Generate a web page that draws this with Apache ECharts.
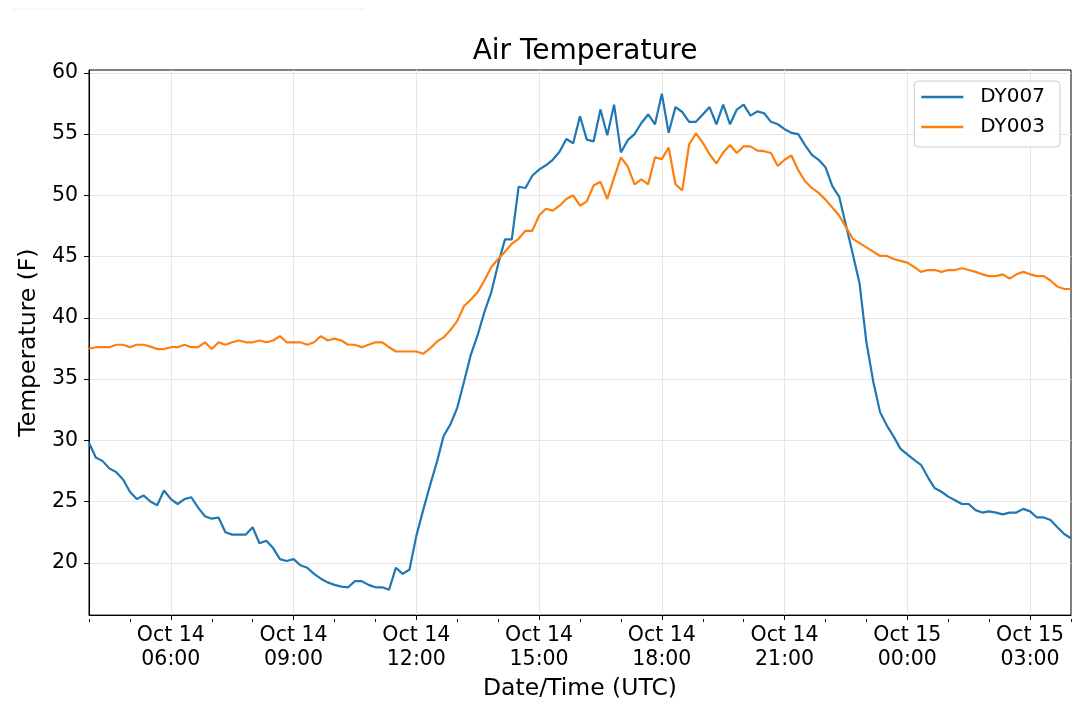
<!DOCTYPE html>
<html>
<head>
    <meta charset="utf-8">
    <title>Air Temperature</title>
    <script src="https://cdn.jsdelivr.net/npm/echarts@6/dist/echarts.min.js"></script>
    <style>
        html, body { margin: 0; padding: 0; background: #fff; }
        #chart1 { width: 1080px; height: 706px; }
    </style>
</head>
<body>
<div id="chart1"></div>
<script>
    // readings every 10 minutes, starting Oct 14 04:00 UTC
    // x is counted in hours after Oct 14 00:00 UTC
    var startHour = 4;
    var stepHours = 10 / 60;

    var dy007 = [
        29.8, 28.6, 28.3, 27.7, 27.4, 26.8, 25.8, 25.2, 25.5, 25.0,
        24.7, 25.9, 25.2, 24.8, 25.2, 25.35, 24.5, 23.8, 23.6, 23.7,
        22.5, 22.3, 22.3, 22.3, 22.9, 21.6, 21.8, 21.2, 20.3, 20.15,
        20.3, 19.8, 19.6, 19.1, 18.7, 18.4, 18.2, 18.05, 18.0, 18.5,
        18.5, 18.2, 18.0, 18.0, 17.8, 19.6, 19.1, 19.45, 22.2, 24.3,
        26.3, 28.2, 30.35, 31.3, 32.65, 34.8, 37.0, 38.6, 40.5, 42.1,
        44.4, 46.4, 46.4, 50.7, 50.6, 51.6, 52.1, 52.45, 52.9, 53.55,
        54.6, 54.25, 56.45, 54.55, 54.4, 57.0, 54.9, 57.4, 53.5, 54.5,
        55.0, 55.9, 56.6, 55.8, 58.3, 55.1, 57.2, 56.8, 56.0, 56.0,
        56.6, 57.2, 55.8, 57.4, 55.8, 57.0, 57.4, 56.5, 56.85, 56.7,
        56.0, 55.8, 55.4, 55.1, 55.0, 54.1, 53.3, 52.9, 52.3, 50.75,
        49.9, 47.55, 45.2, 42.8, 38.0, 34.8, 32.3, 31.2, 30.3, 29.3,
        28.85, 28.4, 28.0, 27.0, 26.1, 25.8, 25.4, 25.1, 24.8, 24.8,
        24.3, 24.1, 24.2, 24.1, 23.95, 24.1, 24.1, 24.4, 24.2, 23.7,
        23.7, 23.5, 22.9, 22.35, 22.0
    ];

    var dy003 = [
        37.47, 37.6, 37.6, 37.6, 37.8, 37.8, 37.6, 37.8, 37.8, 37.65,
        37.45, 37.45, 37.6, 37.6, 37.8, 37.6, 37.6, 38.0, 37.45, 38.0,
        37.8, 38.0, 38.15, 38.0, 38.0, 38.15, 38.0, 38.15, 38.5, 38.0,
        38.0, 38.0, 37.8, 38.0, 38.5, 38.15, 38.3, 38.15, 37.8, 37.8,
        37.6, 37.8, 38.0, 38.0, 37.6, 37.25, 37.25, 37.25, 37.25, 37.06,
        37.5, 38.05, 38.4, 39.0, 39.75, 40.96, 41.5, 42.1, 43.07, 44.15,
        44.8, 45.4, 46.05, 46.45, 47.1, 47.1, 48.35, 48.9, 48.75, 49.15,
        49.7, 50.0, 49.15, 49.5, 50.8, 51.1, 49.7, 51.45, 53.1, 52.35,
        50.9, 51.3, 50.9, 53.1, 52.95, 53.9, 50.9, 50.4, 54.15, 55.05,
        54.3, 53.35, 52.6, 53.5, 54.1, 53.45, 54.0, 54.0, 53.65, 53.6,
        53.45, 52.4, 52.9, 53.25, 52.05, 51.15, 50.6, 50.2, 49.65, 49.0,
        48.35, 47.4, 46.45, 46.1, 45.75, 45.4, 45.05, 45.05, 44.8, 44.65,
        44.5, 44.15, 43.75, 43.9, 43.9, 43.75, 43.9, 43.9, 44.05, 43.9,
        43.75, 43.55, 43.4, 43.4, 43.55, 43.2, 43.55, 43.75, 43.55, 43.4,
        43.4, 43.05, 42.55, 42.35, 42.35
    ];

    // tick positions (hours after Oct 14 00:00 UTC)
    var majorTickHours = [6, 9, 12, 15, 18, 21, 24, 27];
    var minorTickHours = [4, 5, 7, 8, 10, 11, 13, 14, 16, 17, 19, 20, 22, 23, 25, 26, 28];
    var yTicks = [20, 25, 30, 35, 40, 45, 50, 55, 60];
    var yMin = 15.73, yMax = 60.23;
    var xMin = 4, xMax = 28;

    function pad(n) { return (n < 10 ? '0' : '') + n; }

    // hours after Oct 14 00:00 -> "Oct 14\n06:00"
    function timeLabel(value) {
        var h = Math.round(value * 60) / 60;
        var day = 14 + Math.floor(h / 24);
        var hh = Math.floor(h % 24);
        var mm = Math.round((h - Math.floor(h)) * 60);
        return 'Oct ' + day + '\n' + pad(hh) + ':' + pad(mm);
    }

    function pairs(values) {
        return values.map(function (v, i) { return [startHour + i * stepHours, v]; });
    }

    var fontName = 'DejaVu Sans';
    var chart = echarts.init(document.getElementById('chart1'), null, {renderer: 'canvas'});

    var option = {
        animation: false,
        backgroundColor: '#ffffff',
        textStyle: {fontFamily: fontName},
        title: {
            text: 'Air Temperature',
            left: 580,
            textAlign: 'center',
            top: 33,
            textStyle: {fontFamily: fontName, fontSize: 28, fontWeight: 'normal', color: '#000'}
        },
        legend: {
            orient: 'vertical',
            right: 20,
            top: 81,
            data: ['DY007', 'DY003'],
            icon: 'rect',
            itemWidth: 42,
            itemHeight: 2.4,
            itemGap: 8,
            padding: [5, 15, 9, 7],
            backgroundColor: 'rgba(255,255,255,0.8)',
            borderColor: '#cccccc',
            borderWidth: 1,
            borderRadius: 4,
            textStyle: {fontFamily: fontName, fontSize: 20, color: '#000', lineHeight: 22, padding: [0, 0, 0, 12]}
        },
        grid: [
            {left: 89, right: 9, top: 70, bottom: 87, show: true, borderColor: '#000', borderWidth: 1, backgroundColor: 'transparent'},
            {left: 89, right: 9, top: 70, bottom: 87, show: false}
        ],
        xAxis: [{
            type: 'value',
            gridIndex: 0,
            min: xMin,
            max: xMax,
            name: 'Date/Time (UTC)',
            nameLocation: 'middle',
            nameGap: 54,
            nameTextStyle: {fontFamily: fontName, fontSize: 23.5, color: '#000'},
            axisLine: {show: true, onZero: false, lineStyle: {color: '#000', width: 1}},
            axisTick: {show: true, length: 5, lineStyle: {color: '#000'}, customValues: majorTickHours},
            axisLabel: {
                customValues: majorTickHours,
                formatter: timeLabel,
                fontFamily: fontName,
                fontSize: 20.5,
                lineHeight: 24,
                color: '#000',
                margin: 9
            },
            splitLine: {show: true, lineStyle: {color: '#e6e6e6', width: 1}}
        }, {
            type: 'value',
            gridIndex: 1,
            min: xMin,
            max: xMax,
            axisLine: {show: false, onZero: false},
            axisTick: {show: true, length: 3, lineStyle: {color: '#000'}, customValues: minorTickHours},
            axisLabel: {show: false},
            splitLine: {show: false}
        }],
        yAxis: [{
            type: 'value',
            gridIndex: 0,
            min: yMin,
            max: yMax,
            name: 'Temperature (F)',
            nameLocation: 'middle',
            nameGap: 40,
            nameTextStyle: {fontFamily: fontName, fontSize: 23.5, color: '#000'},
            axisLine: {show: true, onZero: false, lineStyle: {color: '#000', width: 1}},
            axisTick: {show: true, length: 5, lineStyle: {color: '#000'}, customValues: yTicks},
            axisLabel: {customValues: yTicks, fontFamily: fontName, fontSize: 20.5, color: '#000', margin: 11},
            splitLine: {show: true, lineStyle: {color: '#e6e6e6', width: 1}}
        }, {
            type: 'value',
            gridIndex: 1,
            min: yMin,
            max: yMax,
            show: false
        }],
        series: [{
            name: 'DY007',
            type: 'line',
            xAxisIndex: 0,
            yAxisIndex: 0,
            symbol: 'none',
            color: '#1f77b4',
            lineStyle: {width: 2.2, color: '#1f77b4'},
            data: pairs(dy007)
        }, {
            name: 'DY003',
            type: 'line',
            xAxisIndex: 0,
            yAxisIndex: 0,
            symbol: 'none',
            color: '#ff7f0e',
            lineStyle: {width: 2.2, color: '#ff7f0e'},
            data: pairs(dy003)
        }],
        graphic: [{
            type: 'line',
            shape: {x1: 12, y1: 9, x2: 365, y2: 9},
            style: {stroke: '#efefef', lineWidth: 1}
        }]
    };

    chart.setOption(option);
</script>
</body>
</html>
